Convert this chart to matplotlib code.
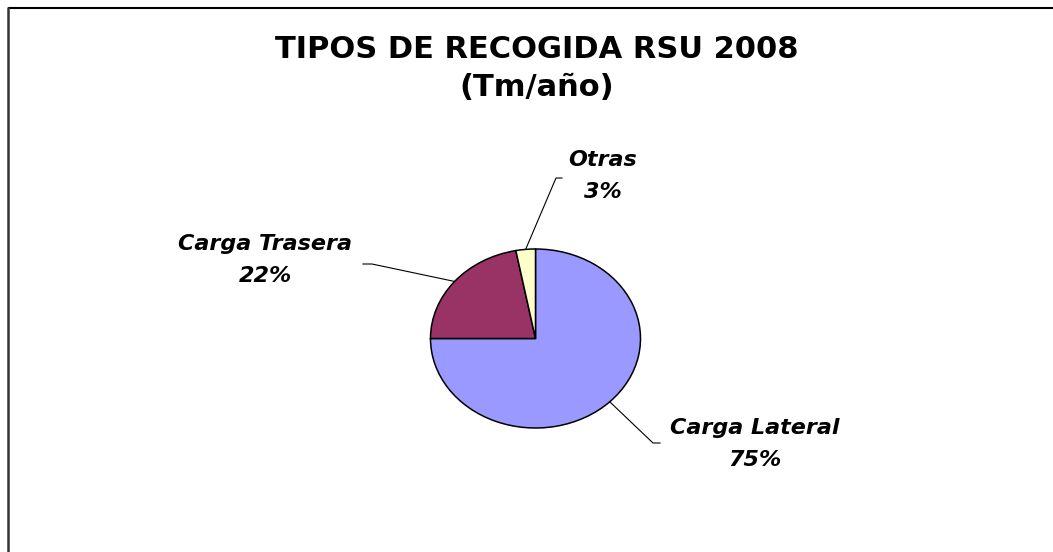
import numpy as np
import matplotlib.pyplot as plt

# datos (porcentajes)
categorias = ['Carga Lateral', 'Carga Trasera', 'Otras']
valores = [75, 22, 3]
colores = ['#9999FF', '#993366', '#FFFFCC']

titulo = 'TIPOS DE RECOGIDA RSU 2008'
subtitulo = '(Tm/año)'

W, H = 1053, 552
# elipse de la tarta en pixeles
cx, cy, rx, ry = 535.5, 338.5, 105, 89.5

# posicion de etiquetas y codo de la linea guia (pixeles)
pos_etiq = [(755, 444), (265, 260), (603, 176)]
codo = [[(653, 443), (660, 443)], [(372, 264), (363, 264)], [(556, 178), (562, 178)]]

fig = plt.figure(figsize=(W / 100, H / 100), dpi=100)
ax = fig.add_axes([0, 0, 1, 1])
ax.set_xlim(0, W)
ax.set_ylim(H, 0)
ax.axis('off')

# marco (solo se ve arriba y a la izquierda)
ax.plot([7.5, W], [7.5, 7.5], color='black', lw=1.5, solid_capstyle='butt')
ax.plot([7.5, 7.5], [7, H], color='#333333', lw=1.8, solid_capstyle='butt')

ax.text(W / 2 + 10, 58, titulo, ha='center', va='baseline', fontsize=22,
        fontweight='bold', family='DejaVu Sans')
ax.text(W / 2 + 10, 96, subtitulo, ha='center', va='baseline', fontsize=22,
        fontweight='bold', family='DejaVu Sans')

pax = fig.add_axes([(cx - rx) / W, 1 - (cy + ry) / H, 2 * rx / W, 2 * ry / H])
wedges, _ = pax.pie(valores, colors=colores, startangle=90, counterclock=False,
                    wedgeprops=dict(edgecolor='black', linewidth=1.1))
pax.set_aspect('auto')
pax.set_xlim(-1, 1)
pax.set_ylim(-1, 1)
for w in wedges:
    w.set_clip_on(False)

total = sum(valores)
for w, cat, v, p, c in zip(wedges, categorias, valores, pos_etiq, codo):
    ang = np.deg2rad((w.theta1 + w.theta2) / 2)
    borde = pax.transData.transform((np.cos(ang), np.sin(ang)))
    bx, by = ax.transData.inverted().transform(borde)
    xs = [bx] + [q[0] for q in c]
    ys = [by] + [q[1] for q in c]
    ax.plot(xs, ys, color='black', lw=0.8)
    pct = round(100 * v / total)
    ax.text(p[0], p[1], f'{cat}\n{pct}%', ha='center', va='center',
            multialignment='center', fontsize=16, fontweight='bold',
            fontstyle='italic', family='DejaVu Sans', linespacing=1.7)

fig.savefig('out.png', dpi=100)
